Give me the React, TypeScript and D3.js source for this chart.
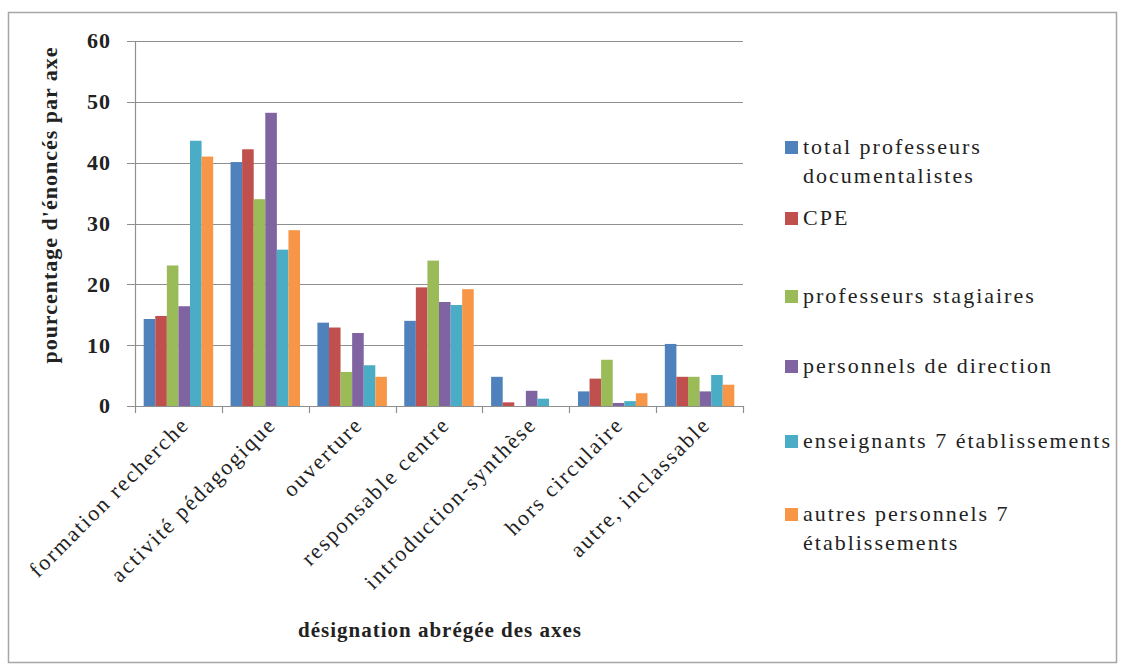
// @ts-nocheck
import React, { useRef, useEffect } from "react";
import * as d3 from "d3";

const categories = [
  "formation recherche",
  "activité pédagogique",
  "ouverture",
  "responsable centre",
  "introduction-synthèse",
  "hors circulaire",
  "autre, inclassable",
];

const seriesNames = [
  "total professeurs documentalistes",
  "CPE",
  "professeurs stagiaires",
  "personnels de direction",
  "enseignants 7 établissements",
  "autres personnels 7 établissements",
];

// legend lines (names wrapped like the original)
const legendLines = [
  ["total professeurs", "documentalistes"],
  ["CPE"],
  ["professeurs stagiaires"],
  ["personnels de direction"],
  ["enseignants 7 établissements"],
  ["autres personnels 7", "établissements"],
];

const totalProfDoc = [14.3, 40.1, 13.7, 14.0, 4.8, 2.4, 10.2];
const cpe = [14.8, 42.2, 12.9, 19.5, 0.6, 4.5, 4.8];
const profStagiaires = [23.1, 34.0, 5.6, 23.9, 0, 7.6, 4.8];
const persDirection = [16.4, 48.2, 12.0, 17.1, 2.5, 0.5, 2.4];
const enseignants7 = [43.6, 25.7, 6.7, 16.6, 1.2, 0.8, 5.1];
const autres7 = [41.0, 28.9, 4.8, 19.2, 0, 2.1, 3.5];

const yTicks = [0, 10, 20, 30, 40, 50, 60];

const colors = ["#4F81BD", "#C0504D", "#9BBB59", "#8064A2", "#4BACC6", "#F79646"];

const App = () => {
  const svgRef = useRef(null);

  useEffect(() => {
    const svg = d3.select(svgRef.current);
    svg.selectAll("*").remove();

    const width = 1125,
      height = 670;
    const marginLeft = 135,
      plotRight = 743,
      plotTop = 41,
      plotBottom = 406;
    const font = "'Liberation Serif', 'Times New Roman', serif";

    const values = [totalProfDoc, cpe, profStagiaires, persDirection, enseignants7, autres7];
    const data = categories.map((c, i) => ({
      category: c,
      vals: values.map((s, k) => ({ key: seriesNames[k], value: s[i], k })),
    }));

    svg.attr("width", width).attr("height", height).attr("viewBox", [0, 0, width, height]);

    svg.append("rect").attr("width", width).attr("height", height).attr("fill", "#fff");

    // outer frame
    svg
      .append("rect")
      .attr("x", 8.5)
      .attr("y", 12.5)
      .attr("width", 1108)
      .attr("height", 650)
      .attr("fill", "none")
      .attr("stroke", "#a6a6a6")
      .attr("stroke-width", 1.5);

    const x0 = d3.scaleBand().domain(categories).range([marginLeft, plotRight]);
    // Excel gap width 150% -> 0.75 bar width on each side
    const bw = x0.bandwidth() / 7.5;
    const x1 = d3
      .scaleBand()
      .domain(seriesNames)
      .range([0.75 * bw, x0.bandwidth() - 0.75 * bw]);

    const y = d3.scaleLinear().domain([0, 60]).range([plotBottom, plotTop]);

    // gridlines
    svg
      .append("g")
      .selectAll("line")
      .data(yTicks)
      .join("line")
      .attr("x1", marginLeft - 8)
      .attr("x2", plotRight)
      .attr("y1", (d) => Math.round(y(d)) + 0.5)
      .attr("y2", (d) => Math.round(y(d)) + 0.5)
      .attr("stroke", "#8f8f8f")
      .attr("stroke-width", 1.2);

    // bars
    svg
      .append("g")
      .selectAll("g")
      .data(data)
      .join("g")
      .attr("transform", (d) => `translate(${x0(d.category)},0)`)
      .selectAll("rect")
      .data((d) => d.vals)
      .join("rect")
      .attr("x", (d) => x1(d.key))
      .attr("width", x1.bandwidth())
      .attr("y", (d) => y(d.value))
      .attr("height", (d) => y(0) - y(d.value))
      .attr("fill", (d) => colors[d.k]);

    // y axis line
    svg
      .append("line")
      .attr("x1", marginLeft + 0.5)
      .attr("x2", marginLeft + 0.5)
      .attr("y1", plotTop)
      .attr("y2", plotBottom)
      .attr("stroke", "#8f8f8f")
      .attr("stroke-width", 1.2);

    // x axis ticks at category boundaries
    const bounds = categories.map((c) => x0(c)).concat([plotRight]);
    svg
      .append("g")
      .selectAll("line")
      .data(bounds)
      .join("line")
      .attr("x1", (d) => Math.round(d) + 0.5)
      .attr("x2", (d) => Math.round(d) + 0.5)
      .attr("y1", plotBottom)
      .attr("y2", plotBottom + 7)
      .attr("stroke", "#8f8f8f")
      .attr("stroke-width", 1.2);

    // y tick labels
    svg
      .append("g")
      .selectAll("text")
      .data(yTicks)
      .join("text")
      .attr("x", 111)
      .attr("y", (d) => y(d))
      .attr("dy", "0.34em")
      .attr("text-anchor", "end")
      .attr("font-family", font)
      .attr("font-weight", "bold")
      .attr("font-size", 22)
      .attr("letter-spacing", 1)
      .attr("fill", "#222")
      .text((d) => d);

    // x tick labels, rotated
    svg
      .append("g")
      .selectAll("text")
      .data(categories)
      .join("text")
      .attr(
        "transform",
        (d) => `translate(${x0(d) + x0.bandwidth() / 2 + 12},${plotBottom + 20}) rotate(-45)`
      )
      .attr("text-anchor", "end")
      .attr("font-family", font)
      .attr("font-size", 22)
      .attr("letter-spacing", 2)
      .attr("fill", "#222")
      .text((d) => d);

    // axis titles
    svg
      .append("text")
      .attr("x", 440)
      .attr("y", 637)
      .attr("text-anchor", "middle")
      .attr("font-family", font)
      .attr("font-weight", "bold")
      .attr("font-size", 21)
      .attr("letter-spacing", 1)
      .attr("fill", "#222")
      .text("désignation abrégée des axes");

    svg
      .append("text")
      .attr("transform", `translate(57,205) rotate(-90)`)
      .attr("text-anchor", "middle")
      .attr("font-family", font)
      .attr("font-weight", "bold")
      .attr("font-size", 22)
      .attr("letter-spacing", 1)
      .attr("fill", "#222")
      .text("pourcentage d'énoncés par axe");

    // legend
    const legendY = [148, 219, 297, 367, 442, 515];
    const lg = svg
      .append("g")
      .selectAll("g")
      .data(legendLines)
      .join("g")
      .attr("transform", (d, i) => `translate(785,${legendY[i]})`);

    lg.append("rect")
      .attr("x", 0)
      .attr("y", -7)
      .attr("width", 13)
      .attr("height", 13)
      .attr("fill", (d, i) => colors[i]);

    lg.each(function (lines) {
      d3.select(this)
        .selectAll("text")
        .data(lines)
        .join("text")
        .attr("x", 18)
        .attr("y", (d, j) => j * 29 + 6)
        .attr("font-family", font)
        .attr("font-size", 22)
        .attr("letter-spacing", 2)
        .attr("fill", "#222")
        .text((d) => d);
    });
  }, []);

  return (
    <svg
      ref={svgRef}
      style={{ position: "absolute", left: 0, top: 0, display: "block" }}
    ></svg>
  );
};

export default App;
